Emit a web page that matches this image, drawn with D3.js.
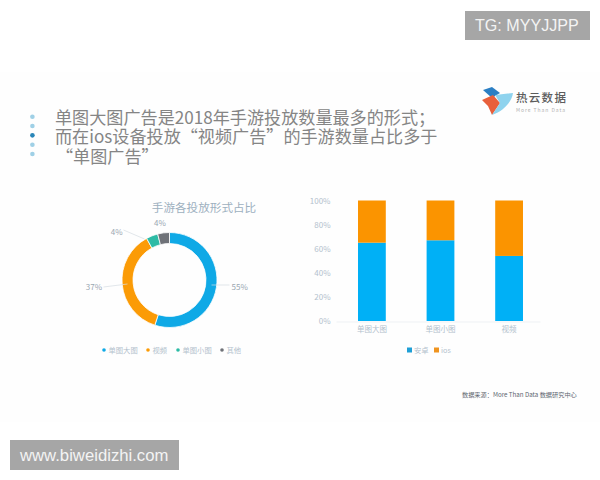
<!DOCTYPE html>
<html><head><meta charset="utf-8">
<script src="https://cdn.jsdelivr.net/npm/d3@7"></script>
<style>html,body{margin:0;padding:0;background:#fff}svg{display:block}text{font-family:"Noto Sans CJK SC","Noto Sans",sans-serif}</style>
</head><body><svg id="c" width="600" height="480"></svg>
<script>
const headline = ["单图大图广告是2018年手游投放数量最多的形式；","而在ios设备投放“视频广告”的手游数量占比多于","“单图广告”"];
const donutTitle = "手游各投放形式占比";
const donutCategories = ["单图大图","视频","单图小图","其他"];
const donutValues = [55,37,4,4];
const donutColors = ["#0fa9e6","#fb9b06","#2dbba5","#6f7278"];
const barCategories = ["单图大图","单图小图","视频"];
const androidShare = [65,67,54];
const iosShare = [35,33,46];
const seriesNames = ["安卓","ios"];
const seriesColors = ["#00b0f6","#fb9400"];
const yTicks = [0,20,40,60,80,100];
const bulletColors = ["#9fd0e6","#9fd0e6","#2a86b8","#9fd0e6","#9fd0e6"];

const svg = d3.select("#c");
const muted = "#b3c1cd";
svg.append("rect").attr("width",600).attr("height",480).attr("fill","#fff");
svg.append("rect").attr("y",72).attr("width",600).attr("height",350).attr("fill","#fefefe");

// headline and bullets
svg.selectAll(".b").data(bulletColors).join("circle").attr("cx",32.4)
  .attr("cy",(d,i)=>116.7+i*9.33).attr("r",2.3).attr("fill",d=>d);
svg.selectAll(".h").data(headline).join("text").attr("x",(d,i)=>i==2?56:55)
  .attr("y",(d,i)=>[123.5,143,162.5][i]).attr("font-size",17.13).attr("fill","#858585").text(d=>d);

// logo
const logo = svg.append("g");
logo.append("path").attr("d","M483 90L492 87L500 93L492 98Z").attr("fill","#2b7fc4");
logo.append("path").attr("d","M482 100L493 95L500 103L492 115L488 106Z").attr("fill","#e8603c");
logo.append("path").attr("d","M495 95L513 93C512 101 504 111 492 115L500 103Z").attr("fill","#8fd3ee");
logo.append("text").attr("x",516).attr("y",102).attr("font-size",11.5).attr("font-weight",500).attr("letter-spacing",1.3).attr("fill","#5c5c5c").text("热云数据");
logo.append("text").attr("x",516).attr("y",111.5).attr("font-size",5).attr("letter-spacing",0.95).attr("fill","#b0b0b0").text("More Than Data");

// donut
const cx=169.5, cy=280;
const pie=d3.pie().sort(null).value(d=>d);
const arcs=pie(donutValues);
const arc=d3.arc().innerRadius(36.5).outerRadius(47.5);
const dg=svg.append("g").attr("transform",`translate(${cx},${cy})`);
dg.selectAll("path").data(arcs).join("path").attr("d",arc).attr("fill",(d,i)=>donutColors[i]).attr("stroke","#fff").attr("stroke-width",0.8);
const labelPos=[[62,7,"start"],[-67.5,7,"end"],[-47,-48,"end"],[-9.5,-57,"middle"]];
const leader=[[[42,5],[60,5]],[[-42,4],[-66,7]],[[-25,-41],[-46,-50]],null];
dg.selectAll(".ln").data(leader.filter(Boolean)).join("path").attr("fill","none").attr("stroke","#d5dce2").attr("stroke-width",0.7).attr("d",d=>d3.line()(d));
dg.selectAll(".lb").data(donutValues).join("text").attr("font-size",8).attr("fill","#9aa7b2")
  .attr("text-anchor",(d,i)=>labelPos[i][2])
  .attr("x",(d,i)=>labelPos[i][0]).attr("y",(d,i)=>labelPos[i][1]+3).text(d=>d+"%");
svg.append("text").attr("x",204).attr("y",212).attr("text-anchor","middle").attr("font-size",11.6).attr("fill","#9db0bf").text(donutTitle);
const lx=[104,148,178,222];
svg.selectAll(".dl").data(donutCategories).join("g").attr("transform",(d,i)=>`translate(${lx[i]},350)`).each(function(d,i){
  const g=d3.select(this);
  g.append("circle").attr("r",1.8).attr("cx",0).attr("fill",donutColors[i]);
  g.append("text").attr("x",4.5).attr("y",3).attr("font-size",7.3).attr("fill",muted).text(d);
});

// stacked bars
const x=d3.scaleBand().domain(barCategories).range([336,540]).paddingInner(0.595).paddingOuter(0.2845).align(0.564);
const y=d3.scaleLinear().domain([0,100]).range([321,200.5]);
const rows=barCategories.map((c,i)=>({c,android:androidShare[i],ios:iosShare[i]}));
const stacked=d3.stack().keys(["android","ios"])(rows);
svg.selectAll(".s").data(stacked).join("g").attr("fill",(d,i)=>seriesColors[i])
  .selectAll("rect").data(d=>d).join("rect")
  .attr("x",d=>x(d.data.c)).attr("width",x.bandwidth())
  .attr("y",d=>y(d[1])).attr("height",d=>y(d[0])-y(d[1]));
const yAxis=svg.append("g").attr("transform","translate(336,0)")
  .call(d3.axisLeft(y).tickValues(yTicks).tickFormat(d=>d+"%").tickSize(0));
yAxis.select(".domain").remove();
yAxis.selectAll("text").attr("font-size",8).attr("fill",muted).attr("dx",-2.5);
const xAxis=svg.append("g").attr("transform","translate(0,321.5)")
  .call(d3.axisBottom(x).tickSize(0));
xAxis.select(".domain").attr("stroke","#eef1f4");
xAxis.selectAll("text").attr("font-size",7.5).attr("fill",muted).attr("dy",7);
const sx=[407,434];
svg.selectAll(".sl").data(seriesNames).join("g").attr("transform",(d,i)=>`translate(${sx[i]},350)`).each(function(d,i){
  const g=d3.select(this);
  g.append("rect").attr("x",0).attr("y",-2.5).attr("width",5).attr("height",5).attr("fill",i==0?"#1f9fd6":"#ef9420");
  g.append("text").attr("x",7).attr("y",3).attr("font-size",7.3).attr("fill",muted).text(d);
});
svg.append("text").attr("x",462).attr("y",397).attr("font-size",6.2).attr("fill","#5d6670").text("数据来源：More Than Data 数据研究中心");

// watermarks
const wm=[[465,11,125,29,"TG: MYYJJPP",475,31,16.1],[10,440,169,30,"www.biweidizhi.com",20,461,16.7]];
wm.forEach(w=>{
  svg.append("rect").attr("x",w[0]).attr("y",w[1]).attr("width",w[2]).attr("height",w[3]).attr("fill","#a6a6a6");
  svg.append("text").attr("x",w[5]).attr("y",w[6]).attr("font-size",w[7]).attr("fill","#f4f4f4").style("font-family","Liberation Sans").text(w[4]);
});
</script></body></html>
